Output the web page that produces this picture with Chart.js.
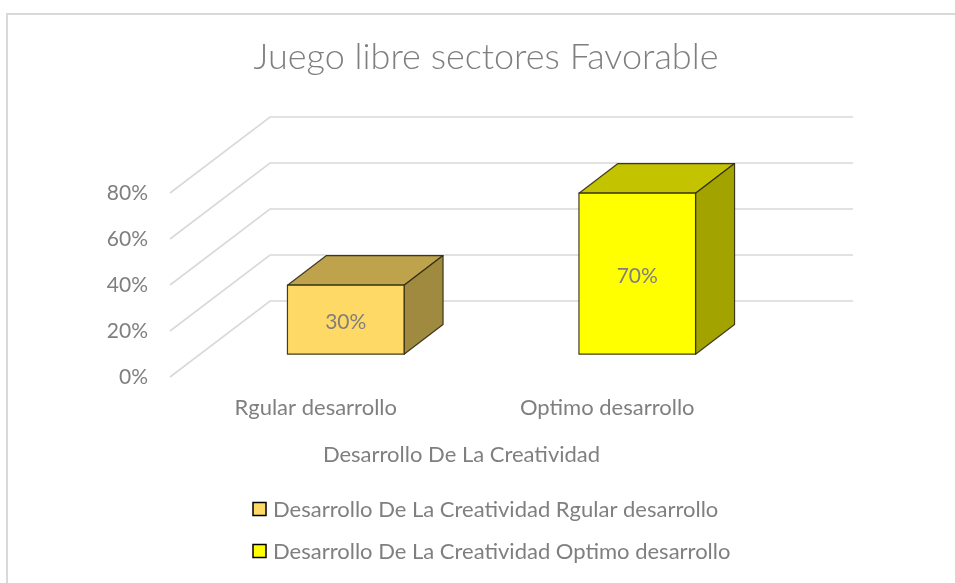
<!DOCTYPE html>
<html>
<head>
<meta charset="utf-8">
<script src="https://cdn.jsdelivr.net/npm/chart.js@4.4.1/dist/chart.umd.min.js"></script>
<style>
  html, body { margin: 0; padding: 0; background: #fff; overflow: hidden; }
  #wrap { width: 955px; height: 583px; position: relative; }
</style>
</head>
<body>
<div id="wrap"><canvas id="chart"></canvas></div>
<script>
// Chart data
const categories = ['Rgular desarrollo', 'Optimo desarrollo'];
const seriesNames = [
    'Desarrollo De La Creatividad Rgular desarrollo',
    'Desarrollo De La Creatividad Optimo desarrollo'
];
const regularValues = [0.30, null];
const optimoValues = [null, 0.70];
const yTickValues = [0, 0.2, 0.4, 0.6, 0.8];

const FONT = 'Lato';
const GRAY = '#7f7f7f';
const seriesColors = [
    { front: '#ffd966', top: '#bfa34c', side: '#a08a40' },
    { front: '#ffff00', top: '#c3c300', side: '#a3a300' }
];

// 3D look: floor depth and where the bars sit inside it
const depth = { dx: 100, dy: -76 };
const barFront = 0.30, barBack = 0.69;

const pct = v => Math.round(v * 100) + '%';

function quad(ctx, pts, fill) {
    ctx.beginPath();
    ctx.moveTo(pts[0][0], pts[0][1]);
    for (let i = 1; i < pts.length; i++) ctx.lineTo(pts[i][0], pts[i][1]);
    ctx.closePath();
    ctx.fillStyle = fill;
    ctx.fill();
    ctx.stroke();
}

const frame3d = {
    id: 'frame3d',
    beforeDraw(chart) {
        const ctx = chart.ctx;
        ctx.save();
        ctx.strokeStyle = '#d9d9d9';
        ctx.lineWidth = 2;
        ctx.beginPath();
        ctx.moveTo(7, chart.height);
        ctx.lineTo(7, 14);
        ctx.lineTo(chart.width, 14);
        ctx.stroke();
        ctx.restore();
    },
    beforeDatasetsDraw(chart) {
        const { ctx, chartArea, scales } = chart;
        ctx.save();
        ctx.strokeStyle = '#d9d9d9';
        ctx.lineWidth = 1.6;
        scales.y.ticks.forEach(t => {
            const y = scales.y.getPixelForValue(t.value);
            ctx.beginPath();
            ctx.moveTo(chartArea.left, y);
            ctx.lineTo(chartArea.left + depth.dx, y + depth.dy);
            ctx.lineTo(chartArea.right + depth.dx, y + depth.dy);
            ctx.stroke();
        });
        ctx.restore();
    },
    afterDatasetsDraw(chart) {
        const ctx = chart.ctx;
        const fx = depth.dx * barFront, fy = depth.dy * barFront;
        const bx = depth.dx * (barBack - barFront), by = depth.dy * (barBack - barFront);
        ctx.save();
        ctx.strokeStyle = 'rgba(45,42,20,0.9)';
        ctx.lineWidth = 1.2;
        ctx.lineJoin = 'round';
        chart.data.datasets.forEach((ds, i) => {
            const c = seriesColors[i];
            chart.getDatasetMeta(i).data.forEach((el, j) => {
                if (ds.data[j] == null || isNaN(el.y)) return;
                const x0 = el.x - el.width / 2 + fx, x1 = el.x + el.width / 2 + fx;
                const yT = el.y + fy, yB = el.base + fy;
                quad(ctx, [[x0, yT], [x0 + bx, yT + by], [x1 + bx, yT + by], [x1, yT]], c.top);
                quad(ctx, [[x1, yT], [x1 + bx, yT + by], [x1 + bx, yB + by], [x1, yB]], c.side);
                quad(ctx, [[x0, yT], [x1, yT], [x1, yB], [x0, yB]], c.front);
                ctx.fillStyle = GRAY;
                ctx.font = '21px ' + FONT;
                ctx.textAlign = 'center';
                ctx.textBaseline = 'middle';
                ctx.fillText(pct(ds.data[j]), (x0 + x1) / 2, (yT + yB) / 2 + 3);
            });
        });
        ctx.restore();
    },
    afterDraw(chart) {
        // legend, one series per row
        const ctx = chart.ctx;
        ctx.save();
        ctx.font = '22px ' + FONT;
        ctx.textBaseline = 'middle';
        ctx.textAlign = 'left';
        chart.data.datasets.forEach((ds, i) => {
            const y = 509 + i * 42;
            ctx.fillStyle = seriesColors[i].front;
            ctx.fillRect(253, y - 6.5, 13, 13);
            ctx.strokeStyle = '#000';
            ctx.lineWidth = 1.5;
            ctx.strokeRect(253, y - 6.5, 13, 13);
            ctx.fillStyle = GRAY;
            ctx.fillText(ds.label, 273, y + 1);
        });
        ctx.restore();
    }
};

new Chart(document.getElementById('chart'), {
    type: 'bar',
    data: {
        labels: categories,
        datasets: [
            { label: seriesNames[0], data: regularValues },
            { label: seriesNames[1], data: optimoValues }
        ].map(d => Object.assign(d, { backgroundColor: 'rgba(0,0,0,0)', borderWidth: 0 }))
    },
    plugins: [frame3d],
    options: {
        responsive: true,
        maintainAspectRatio: false,
        animation: false,
        layout: { padding: { left: 17, right: 0, top: 0, bottom: 106 } },
        datasets: { bar: { grouped: false, barPercentage: 0.4, categoryPercentage: 1 } },
        plugins: {
            legend: { display: false },
            tooltip: { enabled: false },
            title: {
                display: true,
                text: 'Juego libre sectores Favorable',
                color: GRAY,
                font: { family: FONT, size: 36, weight: '300', lineHeight: 1.2 },
                padding: { top: 35.4, bottom: 114.4 }
            }
        },
        scales: {
            x: {
                grid: { display: false, drawTicks: false },
                border: { display: false },
                ticks: { color: GRAY, padding: 18, font: { family: FONT, size: 22 } },
                title: {
                    display: true,
                    text: 'Desarrollo De La Creatividad',
                    color: GRAY,
                    font: { family: FONT, size: 22, lineHeight: 1.2 },
                    padding: { top: 0, bottom: 8.8 }
                },
                afterFit: s => { s.height = 100; }
            },
            y: {
                min: 0,
                max: 0.8,
                grid: { display: false, drawTicks: false },
                border: { display: false },
                afterBuildTicks: s => { s.ticks = yTickValues.map(v => ({ value: v })); },
                ticks: { color: GRAY, padding: 22, font: { family: FONT, size: 21 }, callback: v => pct(v) },
                afterFit: s => { s.width = 153; }
            },
            // empty right-hand strip that holds the floor depth and keeps the title centred
            yRight: {
                type: 'linear',
                position: 'right',
                grid: { display: false, drawTicks: false },
                border: { display: false },
                ticks: { display: false },
                afterFit: s => { s.width = 202; }
            }
        }
    }
});
</script>
</body>
</html>
